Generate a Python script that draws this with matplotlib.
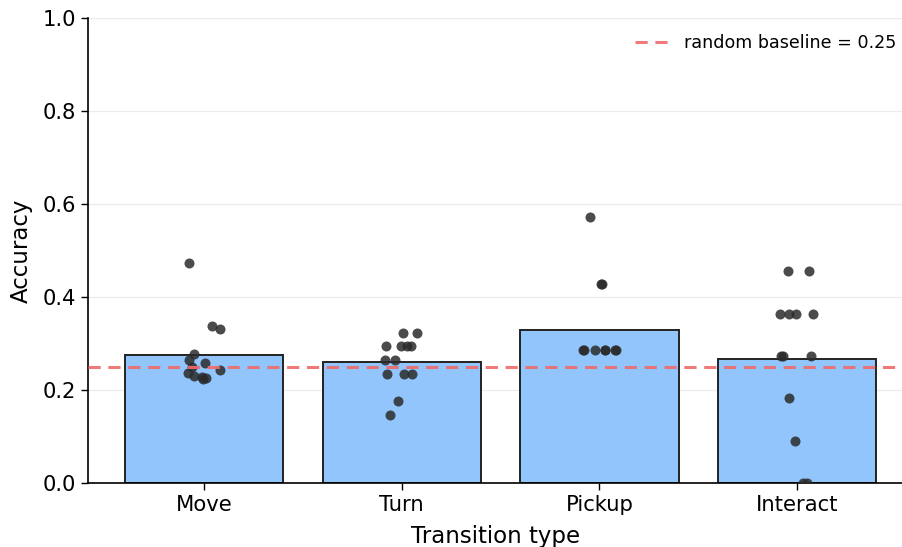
import matplotlib.pyplot as plt
import numpy as np

categories = ['Move', 'Turn', 'Pickup', 'Interact']
bar_means = [0.275, 0.260, 0.329, 0.267]

# per-episode accuracies (read from the strip points) and their horizontal jitter
move_acc = [0.473, 0.338, 0.331, 0.278, 0.264, 0.257, 0.249, 0.243, 0.236, 0.230, 0.229, 0.225, 0.223]
move_jit = [-0.074, 0.042, 0.079, -0.049, -0.074, 0.005, -0.062, 0.082, -0.080, -0.051, -0.012, 0.010, -0.004]
turn_acc = [0.323, 0.323, 0.294, 0.294, 0.294, 0.294, 0.265, 0.265, 0.235, 0.235, 0.235, 0.176, 0.147]
turn_jit = [0.009, 0.076, -0.077, -0.002, 0.025, 0.045, -0.082, -0.034, -0.076, 0.012, 0.051, -0.017, -0.061]
pickup_acc = [0.571, 0.429, 0.429, 0.286, 0.286, 0.286, 0.286, 0.286, 0.286, 0.286]
pickup_jit = [-0.049, 0.010, 0.012, -0.082, -0.080, -0.024, 0.027, 0.030, 0.081, 0.083]
interact_acc = [0.455, 0.455, 0.364, 0.364, 0.364, 0.364, 0.273, 0.273, 0.273, 0.182, 0.091, 0.0, 0.0]
interact_jit = [-0.045, 0.062, -0.086, -0.042, -0.007, 0.082, -0.081, -0.074, 0.071, -0.039, -0.012, 0.030, 0.051]

baseline = 0.25

all_acc = [move_acc, turn_acc, pickup_acc, interact_acc]
all_jit = [move_jit, turn_jit, pickup_jit, interact_jit]

fig = plt.figure(figsize=(9.03, 5.47), dpi=100)
ax = fig.add_axes([88 / 903, 64 / 547, 815 / 903, 465 / 547])

x = np.arange(len(categories))
ax.bar(x, bar_means, width=0.8, color='#93c5fd', edgecolor='#222222', linewidth=1.4, zorder=2)

for i in range(len(categories)):
    xs = i + np.array(all_jit[i])
    ax.scatter(xs, all_acc[i], s=52, color='#2b2b2b', alpha=0.85, linewidths=0, zorder=3)

ax.axhline(baseline, color='#ef6b6b', linestyle='--', linewidth=2.2, alpha=0.9,
           dashes=(4, 2.5), label='random baseline = 0.25', zorder=4)

ax.set_xlim(-0.586, 3.535)
ax.set_ylim(0, 1.0)
ax.set_yticks([0.0, 0.2, 0.4, 0.6, 0.8, 1.0])
ax.set_xticks(x)
ax.set_xticklabels(categories)
ax.tick_params(labelsize=15.2, length=5, width=1.0)
ax.yaxis.grid(True, color='#ececec', linewidth=0.9, zorder=0)
ax.set_axisbelow(True)
ax.spines['top'].set_visible(False)
ax.spines['right'].set_visible(False)
ax.spines['left'].set_linewidth(1.2)
ax.spines['bottom'].set_linewidth(1.2)
ax.set_xlabel('Transition type', fontsize=16.5, labelpad=7)
ax.set_ylabel('Accuracy', fontsize=16.5, labelpad=7)
ax.legend(loc='upper right', frameon=False, fontsize=12.6, bbox_to_anchor=(1.011, 1.0),
          handlelength=2.23, handletextpad=0.57)

fig.savefig('out.png', dpi=100)
